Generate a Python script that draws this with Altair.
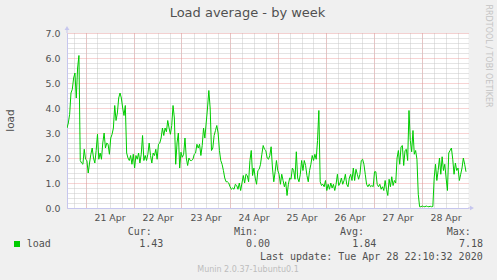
import altair as alt
import pandas as pd

# ---- data (load average, ~40 min samples) ----
load_apr20_21 = [3.2, 3.4, 3.75, 4.6, 4.75, 5.2, 5.4, 4.4, 5.6, 6.1,
                 1.9, 1.8, 1.75, 2.35, 1.95, 1.9, 1.4, 1.8, 2.15, 2.4,
                 2.0, 1.8, 2.3, 2.95, 1.95, 2.2, 1.95, 2.6, 3.0, 2.4,
                 2.6, 2.55, 2.15, 2.8, 2.95, 3.2, 4.1, 3.5, 3.8, 4.4,
                 4.6, 4.4, 4.0, 3.7, 4.1, 2.2, 2.0, 1.9, 2.1, 1.75,
                 2.15, 1.6, 2.1, 1.95, 2.2, 1.8, 2.15, 2.9, 1.9, 2.1,
                 1.9, 2.15, 2.6, 2.1, 1.8, 2.2, 2.1, 2.35, 1.95, 2.55,
                 2.6, 2.8, 3.2, 2.9, 3.2, 3.05]
load_apr22_24 = [3.5, 3.2, 2.95, 3.3, 4.1, 3.6, 1.75, 2.6, 3.0, 1.6,
                 2.23, 2.03, 2.15, 2.8, 2.0, 1.7, 2.0, 1.9, 1.9, 1.95,
                 2.15, 2.2, 2.55, 2.4, 2.55, 2.1, 2.5, 3.2, 2.8, 3.4,
                 4.0, 4.7, 4.0, 2.3, 2.4, 2.9, 3.1, 3.3, 3.0, 2.3,
                 1.9, 1.75, 1.5, 1.2, 1.05, 1.05, 1.0, 0.85, 0.75, 0.8,
                 0.75, 0.95, 0.9, 0.75, 1.0, 0.7, 1.0, 1.3, 1.0, 1.35,
                 1.3, 1.05, 1.9, 2.3, 1.3, 1.6, 1.2, 0.95, 1.5, 1.55,
                 1.75, 2.15, 2.5, 2.35, 2.3, 2.0]
load_apr24_26 = [1.95, 2.1, 2.45, 1.6, 1.05, 1.45, 1.9, 1.5, 1.35, 0.95,
                 1.35, 1.1, 0.85, 1.05, 0.5, 0.95, 1.2, 1.15, 1.6, 1.5,
                 1.15, 2.25, 1.2, 1.05, 1.35, 1.9, 1.5, 1.9, 1.7, 1.3,
                 1.05, 1.5, 1.75, 2.1, 1.9, 2.15, 1.95, 2.7, 3.9, 1.05,
                 0.9, 0.95, 0.85, 1.1, 0.7, 0.95, 0.75, 1.0, 0.8, 0.95,
                 0.7, 0.95, 1.35, 0.9, 1.0, 1.2, 0.95, 1.1, 1.35, 0.95,
                 0.85, 1.2, 1.35, 1.1, 1.6, 1.1, 1.55, 1.35, 1.15, 1.35,
                 1.9, 1.95, 1.75, 1.35, 0.95, 0.85, 0.95]
load_apr26_28 = [0.85, 0.9, 0.85, 1.45, 1.45, 0.95, 0.85, 0.95, 0.75, 0.85,
                 0.7, 1.1, 0.75, 0.5, 1.15, 0.85, 1.25, 0.9, 1.1, 1.0,
                 2.0, 2.3, 1.75, 2.45, 2.5, 1.7, 2.3, 2.35, 1.9, 3.9,
                 2.7, 2.25, 3.1, 2.15, 2.3, 1.95, 0.55, 0.05, 0.05, 0.08,
                 0.06, 0.05, 0.08, 0.06, 0.05, 0.07, 0.05, 0.06, 1.2, 1.75,
                 1.1, 1.5, 2.0, 1.35, 2.05, 1.5, 1.75, 1.2, 0.7, 2.2,
                 2.3, 2.4, 1.95, 1.35, 1.8, 1.5, 1.6, 1.1, 1.35, 1.6,
                 2.0, 1.75, 1.45]
load = load_apr20_21 + load_apr22_24 + load_apr24_26 + load_apr26_28

series_start = "2020-04-20 14:45"
sample_step = "2386s"
domain_start = "2020-04-20 14:45"
domain_end = "2020-04-28 23:15"
day_label_format = "%d %b"   # gives "21 Apr" ... "28 Apr"
y_major = [0, 1, 2, 3, 4, 5, 6, 7]
y_minor = [0.2, 0.4, 0.6, 0.8, 1.2, 1.4, 1.6, 1.8, 2.2, 2.4, 2.6, 2.8,
           3.2, 3.4, 3.6, 3.8, 4.2, 4.4, 4.6, 4.8, 5.2, 5.4, 5.6, 5.8,
           6.2, 6.4, 6.6, 6.8]
stat_names = ["Cur:", "Min:", "Avg:", "Max:"]
stat_values = ["1.43", "0.00", "1.84", "7.18"]
series_name = "load"
title_text = "Load average - by week"
y_title = "load"
last_update = "Last update: Tue Apr 28 22:10:32 2020"
version_text = "Munin 2.0.37-1ubuntu0.1"
side_text = "RRDTOOL / TOBI OETIKER"

# ---- build table ----
times = pd.date_range(series_start, periods=len(load), freq=sample_step, tz="UTC")
df = pd.DataFrame({"t": times.strftime("%Y-%m-%dT%H:%M:%SZ"), "load": load})


def ms(s):
    return int(pd.Timestamp(s, tz="UTC").value // 10**6)


midnights = [ms(d) for d in pd.date_range("2020-04-21", "2020-04-28", freq="D")]
noons = [ms(d) for d in pd.date_range("2020-04-21 12:00", "2020-04-28 12:00", freq="D")]
six_hours = [ms(d) for d in pd.date_range("2020-04-20 18:00", "2020-04-28 18:00", freq="6h")]

xscale = alt.Scale(type="utc", domain=[ms(domain_start), ms(domain_end)])
yscale = alt.Scale(domain=[0, 7], nice=False, zero=True)

AXIS_COL = "#C6C6EE"
TEXT_COL = "#505050"
GREEN = "#00CC00"
MINOR_COL = "#C8C8C8"
MAJOR_COL = "#EC9A9A"

base = alt.Chart(df)

minor_grid = base.mark_line(opacity=0).encode(
    x=alt.X("t:T", scale=xscale, axis=alt.Axis(values=six_hours, grid=True, gridColor=MINOR_COL,
                                              gridDash=[1, 1], labels=False, ticks=False, domain=False,
                                              title=None, orient="bottom")),
    y=alt.Y("load:Q", scale=yscale, axis=alt.Axis(values=y_minor, grid=True, gridColor=MINOR_COL,
                                                 gridDash=[1, 1], labels=False, ticks=False, domain=False,
                                                 title=None, orient="left")),
)

major_grid = base.mark_line(opacity=0).encode(
    x=alt.X("t:T", scale=xscale, axis=alt.Axis(values=midnights, grid=True, gridColor=MAJOR_COL,
                                              gridDash=[1, 1], gridOpacity=0.85, labels=False, ticks=False,
                                              domain=False, title=None, orient="bottom")),
    y=alt.Y("load:Q", scale=yscale, axis=alt.Axis(values=y_major, grid=True, gridColor=MAJOR_COL,
                                                 gridDash=[1, 1], gridOpacity=0.85, labels=False, ticks=False,
                                                 domain=False, title=None, orient="left")),
)

line = base.mark_line(color=GREEN, strokeWidth=1, clip=True).encode(
    x=alt.X("t:T", scale=xscale, axis=alt.Axis(values=noons,
                                              labelExpr=f"utcFormat(datum.value, '{day_label_format}')",
                                              grid=False, ticks=False, domainColor=AXIS_COL,
                                              labelFont="DejaVu Sans", labelFontSize=9.4,
                                              labelColor=TEXT_COL, labelPadding=5, labelOverlap=False,
                                              labelFlush=False, title=None, orient="bottom")),
    y=alt.Y("load:Q", scale=yscale, axis=alt.Axis(values=y_major, format=".1f", grid=False, ticks=False,
                                                 domainColor=AXIS_COL, labelFont="DejaVu Sans",
                                                 labelFontSize=9.4, labelColor=TEXT_COL, labelPadding=7,
                                                 title=None, orient="left")),
)

one = pd.DataFrame({"s": [""]})


def text(s, x, y, size=10, font="DejaVu Sans Mono", color=TEXT_COL, align="left", angle=0):
    return alt.Chart(pd.DataFrame({"s": [s]})).mark_text(
        font=font, fontSize=size, color=color, align=align, baseline="middle", angle=angle
    ).encode(text="s:N", x=alt.value(x), y=alt.value(y))


# axis arrows (decoration)
y_arrow_stem = alt.Chart(one).mark_rule(color=AXIS_COL).encode(
    x=alt.value(0), y=alt.value(-5), y2=alt.value(0))
y_arrow = alt.Chart(one).mark_point(shape="triangle-up", filled=True, color=AXIS_COL, size=22, opacity=1).encode(
    x=alt.value(0), y=alt.value(-5))
x_arrow_stem = alt.Chart(one).mark_rule(color=AXIS_COL).encode(
    x=alt.value(401), x2=alt.value(405), y=alt.value(175))
x_arrow = alt.Chart(one).mark_point(shape="triangle-right", filled=True, color=AXIS_COL, size=22, opacity=1).encode(
    x=alt.value(405), y=alt.value(175))

legend_square = alt.Chart(one).mark_square(color=GREEN, size=36, opacity=1).encode(
    x=alt.value(-50), y=alt.value(211))

texts = [
    text(title_text, 180.5, -20, size=13, font="DejaVu Sans", align="center"),
    text(y_title, -56, 87.5, size=10.5, font="DejaVu Sans", align="center", angle=270),
    text(side_text, 421, 23, size=8, font="DejaVu Sans", color="#C4C4C4", align="center", angle=90),
    text(series_name, -40.3, 211.3),
    text(stat_names[0], 60.7, 199),
    text(stat_names[1], 167, 199),
    text(stat_names[2], 273, 199),
    text(stat_names[3], 379.7, 199),
    text(stat_values[0], 72.3, 211.3),
    text(stat_values[1], 179, 211.3),
    text(stat_values[2], 285.3, 211.3),
    text(stat_values[3], 392, 211.3),
    text(last_update, 415.7, 223.7, align="right"),
    text(version_text, 181, 237, size=8, font="DejaVu Sans", color="#BDBDBD", align="center"),
]

chart = alt.layer(
    minor_grid, major_grid, line,
    y_arrow_stem, y_arrow, x_arrow_stem, x_arrow, legend_square, *texts
).resolve_axis(
    x="independent", y="independent"
).properties(
    width=401, height=175,
    autosize="none",
    padding={"left": 67, "top": 33, "right": 29, "bottom": 72},
    background="#F0F0F0",
).configure_view(
    fill="white", stroke="transparent"
)

chart.save("out.html", embed_options={"renderer": "svg", "actions": False})
